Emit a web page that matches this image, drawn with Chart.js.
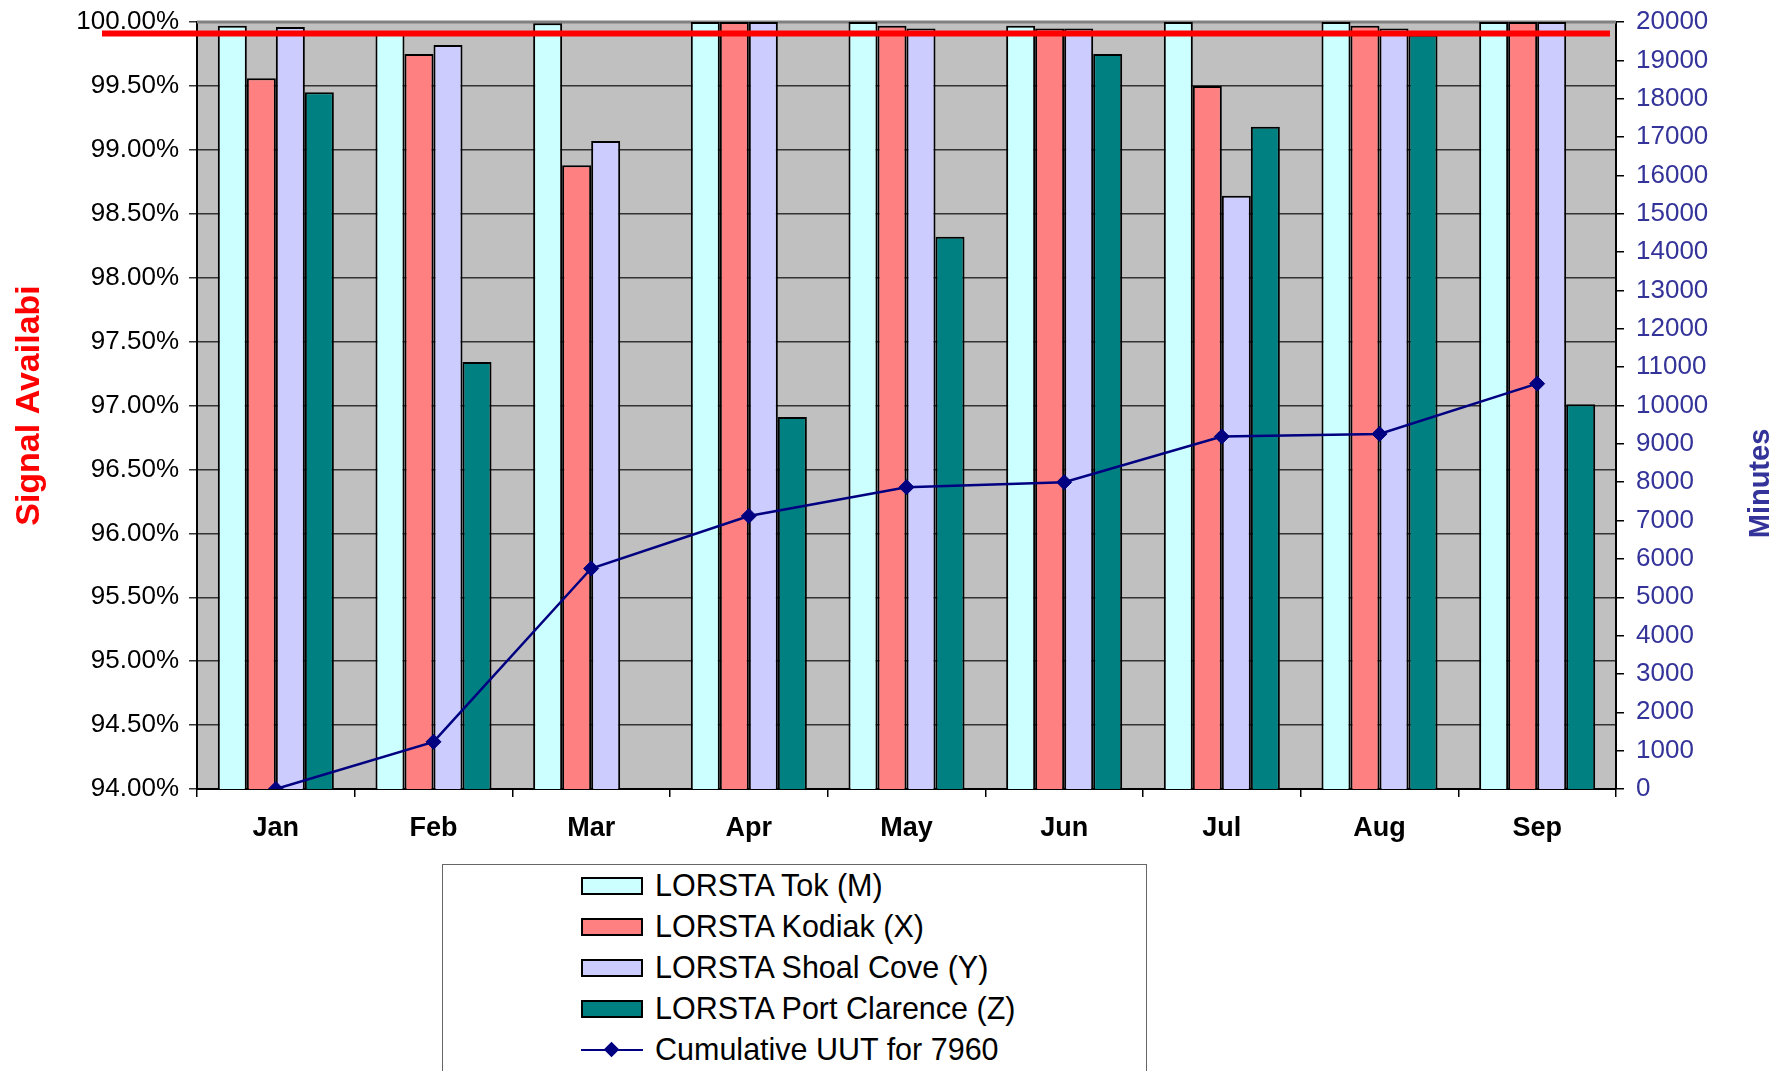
<!DOCTYPE html>
<html>
<head>
<meta charset="utf-8">
<title>Signal availability</title>
<script src="https://cdn.jsdelivr.net/npm/chart.js@4.4.1/dist/chart.umd.min.js"></script>
<style>
  body { margin: 0; background: #fff; font-family: "Liberation Sans", Arial, sans-serif; }
  #wrap { position: relative; width: 1790px; height: 1071px; overflow: hidden; }
  #legend { position: absolute; left: 442px; top: 864px; width: 705px; height: 240px;
            border: 1px solid #666; background: #fff; box-sizing: border-box; }
  .item { position: absolute; left: 138px; height: 41px; display: flex; align-items: center;
          font-size: 30.5px; color: #000; white-space: nowrap; }
  .swatch { width: 62px; height: 18px; box-sizing: border-box; border: 2px solid #000; margin-right: 12px; }
  .lineKey { position: relative; width: 62px; height: 18px; margin-right: 12px; }
  .lineKey .bar { position: absolute; left: 0; right: 0; top: 8px; height: 2px; }
  .lineKey .dot { position: absolute; left: 25px; top: 3px; width: 11px; height: 11px; transform: rotate(45deg); }
</style>
</head>
<body>
<div id="wrap">
  <canvas id="canvas" width="1790" height="1071"></canvas>
  <div id="legend"></div>
</div>
<script>
// categories
let months = ["Jan","Feb","Mar","Apr","May","Jun","Jul","Aug","Sep"];

// signal availability, percent
let tok = [99.97, 99.91, 99.99, 100.0, 100.0, 99.97, 100.0, 100.0, 100.0];
let kodiak = [99.56, 99.75, 98.88, 100.0, 99.97, 99.95, 99.50, 99.97, 100.0];
let shoalCove = [99.96, 99.82, 99.07, 100.0, 99.95, 99.95, 98.64, 99.95, 100.0];
let portClarence = [99.45, 97.34, null, 96.91, 98.32, 99.75, 99.18, 99.90, 97.01];

// cumulative unusable time, minutes
let cumulativeUUT = [0, 1230, 5750, 7120, 7870, 8000, 9190, 9260, 10570];

// target line drawn across the chart
let target = 99.91;

let seriesNames = ["LORSTA Tok (M)", "LORSTA Kodiak (X)", "LORSTA Shoal Cove (Y)",
                   "LORSTA Port Clarence (Z)", "Cumulative UUT for 7960"];
let seriesColors = ["#CCFFFF", "#FF8080", "#CCCCFF", "#008080", "#000080"];

const FONT = '"Liberation Sans", Arial, sans-serif';
const AXIS_BLUE = "#333399";

function barSet(i, values) {
  return {
    type: "bar",
    label: seriesNames[i],
    data: values,
    backgroundColor: seriesColors[i],
    borderColor: "#000",
    borderWidth: 2,
    yAxisID: "y",
    order: 1,
    categoryPercentage: 0.736,
    barPercentage: 1.0
  };
}

// keep the tick padding from pushing the plot area down
function fixVertical(scale, width) {
  scale.width = width;
  scale.paddingTop = 12;
  scale.paddingBottom = 12;
}

// grey plot area, top border, target line and the right title
var plotDecor = {
  id: "plotDecor",
  beforeDraw(chart) {
    let a = chart.chartArea;
    let ctx = chart.ctx;
    ctx.save();
    ctx.fillStyle = "#C0C0C0";
    ctx.fillRect(a.left, a.top, a.right - a.left, a.bottom - a.top);
    ctx.restore();
  },
  beforeDatasetsDraw(chart) {
    let a = chart.chartArea;
    let ctx = chart.ctx;
    ctx.save();
    ctx.strokeStyle = "#808080";
    ctx.lineWidth = 3;
    ctx.beginPath();
    ctx.moveTo(a.left, a.top);
    ctx.lineTo(a.right, a.top);
    ctx.stroke();
    ctx.restore();
  },
  afterDatasetsDraw(chart) {
    let a = chart.chartArea;
    let ctx = chart.ctx;
    let y = chart.scales.y.getPixelForValue(target);
    ctx.save();
    ctx.strokeStyle = "#FF0000";
    ctx.lineWidth = 6;
    ctx.beginPath();
    ctx.moveTo(a.left - 95, y);
    ctx.lineTo(a.right - 6, y);
    ctx.stroke();
    ctx.restore();
  },
  afterDraw(chart) {
    let a = chart.chartArea;
    let ctx = chart.ctx;
    ctx.save();
    ctx.translate(a.right + 145, (a.top + a.bottom) / 2 + 78);
    ctx.rotate(-Math.PI / 2);
    ctx.fillStyle = AXIS_BLUE;
    ctx.font = "bold 29px " + FONT;
    ctx.textAlign = "center";
    ctx.textBaseline = "middle";
    ctx.fillText("Minutes", 0, 0);
    ctx.restore();
  }
};

var ctx = document.getElementById("canvas").getContext("2d");
var chart = new Chart(ctx, {
  data: {
    labels: months,
    datasets: [
      barSet(0, tok),
      barSet(1, kodiak),
      barSet(2, shoalCove),
      barSet(3, portClarence),
      {
        type: "line",
        label: seriesNames[4],
        data: cumulativeUUT,
        borderColor: seriesColors[4],
        backgroundColor: seriesColors[4],
        borderWidth: 2.5,
        pointStyle: "rectRot",
        pointRadius: 7.5,
        pointBorderWidth: 1,
        yAxisID: "y1",
        order: 0,
        tension: 0
      }
    ]
  },
  options: {
    responsive: false,
    animation: false,
    layout: { padding: { left: 0, right: 0, top: 22, bottom: 222 } },
    plugins: {
      legend: { display: false },
      tooltip: { enabled: false }
    },
    scales: {
      x: {
        offset: true,
        grid: { display: true, drawOnChartArea: false, offset: true, color: "#000", lineWidth: 1.5, tickLength: 8 },
        border: { display: true, color: "#000", width: 2 },
        ticks: { color: "#000", font: { family: FONT, size: 27, weight: "bold" }, padding: 15, maxRotation: 0 },
        afterFit(scale) { scale.height = 60; }
      },
      y: {
        position: "left",
        min: 94,
        max: 100,
        ticks: {
          stepSize: 0.5,
          color: "#000",
          font: { family: FONT, size: 26 },
          padding: 10,
          callback: (v) => v.toFixed(2) + "%"
        },
        grid: { color: "#333", lineWidth: 1.5, tickLength: 8 },
        border: { display: true, color: "#000", width: 2 },
        title: {
          display: true,
          text: "Signal Availabi",
          color: "#FF0000",
          font: { family: FONT, size: 34, weight: "bold" },
          padding: { top: 9, bottom: 0 }
        },
        afterFit(scale) { fixVertical(scale, 197); }
      },
      y1: {
        position: "right",
        min: 0,
        max: 20000,
        ticks: {
          stepSize: 1000,
          color: AXIS_BLUE,
          font: { family: FONT, size: 26 },
          padding: 12,
          callback: (v) => String(v)
        },
        grid: { drawOnChartArea: false, color: "#000", lineWidth: 1.5, tickLength: 8 },
        border: { display: true, color: "#000", width: 2 },
        afterFit(scale) { fixVertical(scale, 174); }
      }
    }
  },
  plugins: [plotDecor]
});

// html legend, one row per series
function buildLegend(chart) {
  let box = document.getElementById("legend");
  chart.data.datasets.forEach((ds, i) => {
    let row = document.createElement("div");
    row.className = "item";
    row.style.top = (0 + i * 41) + "px";
    let key = document.createElement("div");
    if (ds.type === "line") {
      key.className = "lineKey";
      key.innerHTML = '<div class="bar"></div><div class="dot"></div>';
      key.children[0].style.background = ds.borderColor;
      key.children[1].style.background = ds.borderColor;
    } else {
      key.className = "swatch";
      key.style.background = ds.backgroundColor;
    }
    let txt = document.createElement("span");
    txt.textContent = ds.label;
    row.appendChild(key);
    row.appendChild(txt);
    box.appendChild(row);
  });
}
buildLegend(chart);
</script>
</body>
</html>
